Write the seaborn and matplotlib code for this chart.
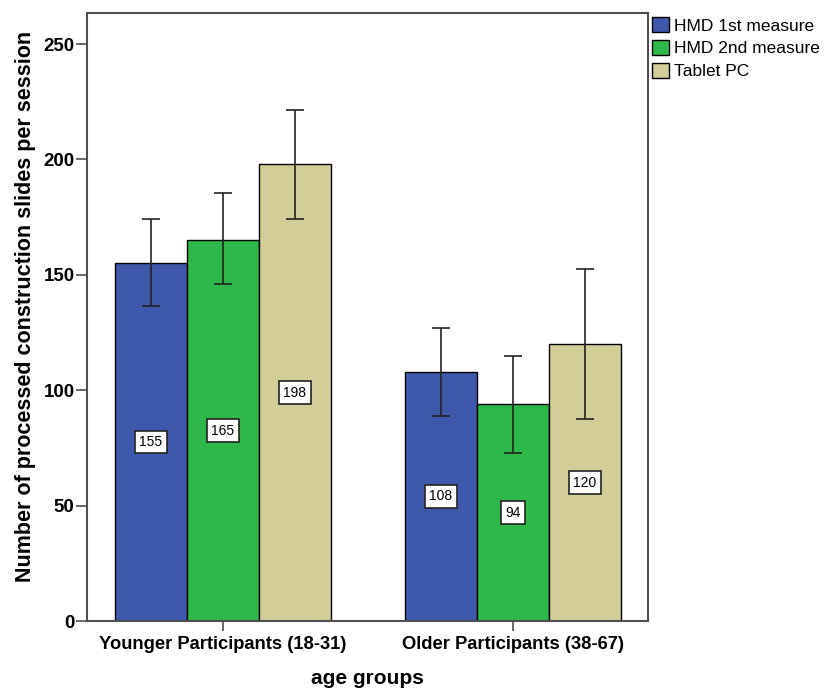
import numpy as np
import pandas as pd
import matplotlib
matplotlib.use('Agg')
import matplotlib.pyplot as plt
import seaborn as sns

# 数据
groups = ['Younger Participants (18-31)', 'Older Participants (38-67)']
measures = ['HMD 1st measure', 'HMD 2nd measure', 'Tablet PC']
means = {
    'HMD 1st measure': [155, 108],
    'HMD 2nd measure': [165, 94],
    'Tablet PC': [198, 120],
}
err_low = {
    'HMD 1st measure': [136.5, 89],
    'HMD 2nd measure': [146, 73],
    'Tablet PC': [174, 87.5],
}
err_high = {
    'HMD 1st measure': [174, 127],
    'HMD 2nd measure': [185.5, 115],
    'Tablet PC': [221.5, 152.5],
}
colors = ['#3e58ac', '#2fb84a', '#d3ce98']

sns.set_theme(style='white')
plt.rcParams['font.family'] = ['Liberation Sans', 'DejaVu Sans']
plt.rcParams['text.color'] = 'black'
plt.rcParams['axes.labelcolor'] = 'black'
plt.rcParams['xtick.color'] = 'black'
plt.rcParams['ytick.color'] = 'black'

df = pd.DataFrame([(g, m, means[m][i]) for m in measures for i, g in enumerate(groups)],
                  columns=['group', 'measure', 'value'])

fig = plt.figure(figsize=(8.24, 6.91), dpi=100)
ax = fig.add_axes([0.1056, 0.1013, 0.6808, 0.8797])

sns.barplot(data=df, x='group', y='value', hue='measure', order=groups, hue_order=measures,
            palette=colors, width=0.745, errorbar=None, edgecolor='black', linewidth=1,
            saturation=1, ax=ax)

# 误差线和数值标签
for m, cont in zip(measures, ax.containers):
    for i, bar in enumerate(cont):
        cx = bar.get_x() + bar.get_width() / 2
        mu = means[m][i]
        ax.errorbar(cx, mu, yerr=[[mu - err_low[m][i]], [err_high[m][i] - mu]],
                    fmt='none', ecolor='#222222', elinewidth=1.2, capsize=6.5, capthick=1.2, zorder=4)
        ax.text(cx, mu / 2, str(mu), ha='center', va='center', fontsize=10, zorder=5,
                bbox=dict(boxstyle='square,pad=0.3', fc='white', ec='#222222', lw=1.2))

ax.set_xlim(-0.469, 1.466)
ax.set_ylim(0, 263.4)
ax.set_yticks([0, 50, 100, 150, 200, 250])
for s in ax.spines.values():
    s.set_color('#505050')
    s.set_linewidth(1.5)
ax.tick_params(axis='y', direction='out', length=8, width=1.2, color='#505050',
               left=True, labelsize=13.5, pad=1)
ax.tick_params(axis='x', direction='out', length=7, width=1.2, color='#505050',
               bottom=True, labelsize=13.2, pad=4)
for lb in ax.get_xticklabels() + ax.get_yticklabels():
    lb.set_fontweight('bold')
ax.set_xlabel('age groups', fontsize=15, fontweight='bold', labelpad=11)
ax.set_ylabel('Number of processed construction slides per session', fontsize=15.5,
              fontweight='bold', va='center')
ax.yaxis.set_label_coords(-0.11, 0.518)

ax.legend(loc='upper left', bbox_to_anchor=(1.0, 1.0), frameon=False, fontsize=12.5,
          handlelength=0.95, handleheight=0.95, handletextpad=0.3, labelspacing=0.35,
          borderaxespad=0.15, borderpad=0.1, title=None)

fig.savefig('out.png', dpi=100)
